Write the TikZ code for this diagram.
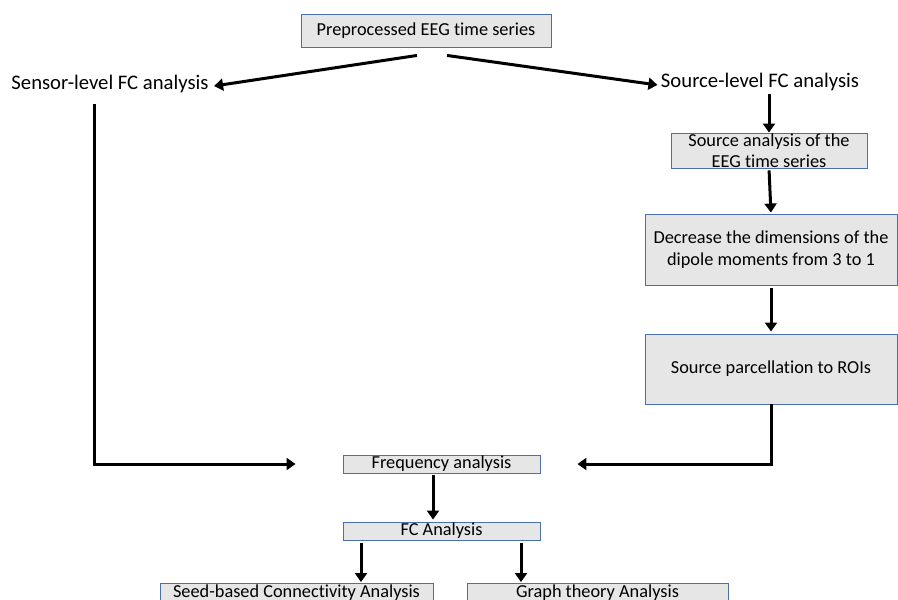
\documentclass[tikz,border=0pt]{standalone}
\usepackage{fontspec}
\setmainfont{Carlito}[Ligatures=NoCommon]
\usepackage{xcolor}
\usepackage{tikz}
\usetikzlibrary{arrows.meta}

\definecolor{boxfill}{HTML}{E7E6E6}
\definecolor{boxline}{HTML}{4A6FAF}

\begin{document}
\begin{tikzpicture}[
    x=1pt, y=-1pt,
    font=\fontsize{20.7}{21}\selectfont,
    box/.style={draw=boxline, line width=0.9pt, fill=boxfill, inner sep=0pt, align=center,
        font=\fontsize{18.3}{21.5}\selectfont},
    arrow/.style={line width=3pt, -{Triangle[length=9pt,width=12pt]}}
]
\clip (0,0) rectangle (898,600);
\node[box, minimum width=250, minimum height=33] (pre) at (426,30.5) {Preprocessed EEG time series};
\node (sensor) at (110,84) {Sensor-level FC analysis};
\node (source) at (760,82) {Source-level FC analysis};
\node[box, minimum width=196, minimum height=35] (srcana) at (769,150.5) {Source analysis of the\\EEG time series};
\node[box, minimum width=252, minimum height=71] (dim) at (771,249.5) {Decrease the dimensions of the\\dipole moments from 3 to 1};
\node[box, minimum width=252, minimum height=70] (parc) at (771,369) {Source parcellation to ROIs};
\node[box, minimum width=197, minimum height=18] (freq) at (441.5,464) {Frequency analysis};
\node[box, minimum width=197, minimum height=18] (fc) at (441.5,531) {FC Analysis};
\node[box, minimum width=273, minimum height=19] (seed) at (296.5,593) {Seed-based Connectivity Analysis};
\node[box, minimum width=261, minimum height=19] (graph) at (597.5,593) {Graph theory Analysis};

\draw[arrow] ([xshift=-9pt,yshift=-8pt]pre.south) -- ([xshift=2pt,yshift=-2pt]sensor.east);
\draw[arrow] ([xshift=21pt,yshift=-8pt]pre.south) -- ([yshift=-3pt]source.west);
\draw[arrow] (srcana.north |- source.south) -- (srcana.north);
\draw[arrow, shorten <=2pt, shorten >=1pt] (srcana.south) -- (dim.north);
\draw[arrow, shorten <=3pt, shorten >=2pt] (dim.south) -- (parc.north);
\draw[arrow] (parc.south) |- ([xshift=37pt]freq.east);
\draw[arrow] ([xshift=-16pt,yshift=-8pt]sensor.south) |- ([xshift=-47pt]freq.west);
\draw[arrow, shorten <=2pt, shorten >=2pt] ([xshift=-8.5pt]freq.south) -- ([xshift=-8.5pt]fc.north);
\draw[arrow, shorten <=3pt, shorten >=1pt] ([xshift=-80.5pt]fc.south) -- ([xshift=64.5pt]seed.north);
\draw[arrow, shorten <=3pt, shorten >=1pt] ([xshift=79.5pt]fc.south) -- ([xshift=-76.5pt]graph.north);
\end{tikzpicture}
\end{document}
